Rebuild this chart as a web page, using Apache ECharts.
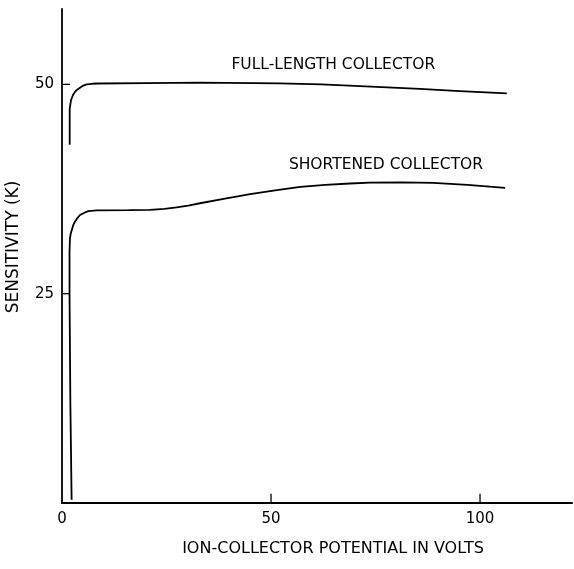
<!DOCTYPE html>
<html>
<head>
<meta charset="utf-8">
<script src="https://cdn.jsdelivr.net/npm/echarts@6/dist/echarts.min.js"></script>
<style>html,body{margin:0;padding:0;background:#fff;}#c{width:574px;height:569px;}</style>
</head>
<body>
<div id="c"></div>
<script>
var xTickLabels = [0, 50, 100];
var xTickMarks = [50, 100];
var yTicks = [25, 50];
var fullLength = [[1.84, 42.8], [1.84, 47.1], [2.15, 48.1], [2.6, 48.7], [3.1, 49.1], [3.7, 49.4], [4.3, 49.6], [5.1, 49.85], [5.9, 50.0], [7.2, 50.07], [8.6, 50.1], [20, 50.15], [33, 50.2], [52, 50.12], [62, 50.0], [71.3, 49.8], [85.6, 49.45], [95.2, 49.2], [106.4, 48.92]];
var shortened = [[2.3, 0.4], [2.0, 12], [1.8, 25], [1.8, 30], [1.9, 31.6], [2.1, 32.2], [2.4, 32.7], [2.7, 33.2], [3.1, 33.6], [3.5, 33.9], [4.3, 34.4], [5.5, 34.7], [6.3, 34.85], [8.3, 34.96], [16, 34.98], [21, 35.02], [24.5, 35.14], [27.4, 35.3], [30.2, 35.52], [33, 35.8], [39, 36.35], [45, 36.88], [51, 37.35], [57, 37.75], [63, 38.0], [68.9, 38.16], [73.7, 38.26], [81, 38.3], [88.8, 38.23], [97, 38.0], [106, 37.63]];
var seriesNames = ['FULL-LENGTH COLLECTOR', 'SHORTENED COLLECTOR'];
var labelPos = [[64.9, 52.3], [77.5, 40.35]];
var xName = 'ION-COLLECTOR POTENTIAL IN VOLTS';
var yName = 'SENSITIVITY (K)';

var font = 'DejaVu Sans, sans-serif';
var chart = echarts.init(document.getElementById('c'));
var X_MAX = 122, Y_MAX = 59;
var xTickLen = 1.1, yTickLen = 1.9;

function mk(name, data, pos) {
  return {
    type: 'line', name: name, data: data, showSymbol: false, symbol: 'none',
    lineStyle: {color: '#000', width: 1.8}, animation: false,
    markPoint: {
      symbol: 'circle', symbolSize: 0, silent: true,
      label: {show: true, position: 'inside', formatter: name, color: '#000', fontSize: 15.5, fontFamily: font},
      data: [{coord: pos, value: name}]
    }
  };
}
var tickData = [];
xTickMarks.forEach(function (v) { tickData.push([v, 0, v, xTickLen]); });
yTicks.forEach(function (v) { tickData.push([0, v, yTickLen, v]); });
var tickSeries = {
  type: 'custom', silent: true, animation: false, clip: false, z: 5,
  data: tickData,
  renderItem: function (params, api) {
    var a = api.coord([api.value(0), api.value(1)]);
    var b = api.coord([api.value(2), api.value(3)]);
    return {type: 'line', shape: {x1: a[0], y1: a[1], x2: b[0], y2: b[1]}, style: {stroke: '#000', lineWidth: 1.3}};
  },
  encode: {x: [0, 2], y: [1, 3]}
};
var series = [mk(seriesNames[0], fullLength, labelPos[0]), mk(seriesNames[1], shortened, labelPos[1]), tickSeries];

chart.setOption({
  animation: false,
  backgroundColor: '#fff',
  grid: {left: 62, right: 2, top: 9, bottom: 66},
  xAxis: {
    type: 'value', min: 0, max: X_MAX, interval: 50,
    splitLine: {show: false},
    axisLine: {lineStyle: {color: '#000', width: 2}},
    axisTick: {show: false},
    axisLabel: {color: '#000', fontSize: 15, fontFamily: font, margin: 9, customValues: xTickLabels}
  },
  yAxis: {
    type: 'value', min: 0, max: Y_MAX, interval: 25,
    splitLine: {show: false},
    axisLine: {lineStyle: {color: '#000', width: 1.8}},
    axisTick: {show: false},
    axisLabel: {color: '#000', fontSize: 15, fontFamily: font, margin: 8, customValues: yTicks}
  },
  graphic: [
    {type: 'text', x: 333, y: 549, style: {text: xName, fontSize: 16, fontFamily: font, fill: '#000', textAlign: 'center', textVerticalAlign: 'middle'}},
    {type: 'text', x: 14, y: 247, rotation: Math.PI / 2, style: {text: yName, fontSize: 17, fontFamily: font, fill: '#000', textAlign: 'center', textVerticalAlign: 'middle'}}
  ],
  series: series
});
</script>
</body>
</html>
